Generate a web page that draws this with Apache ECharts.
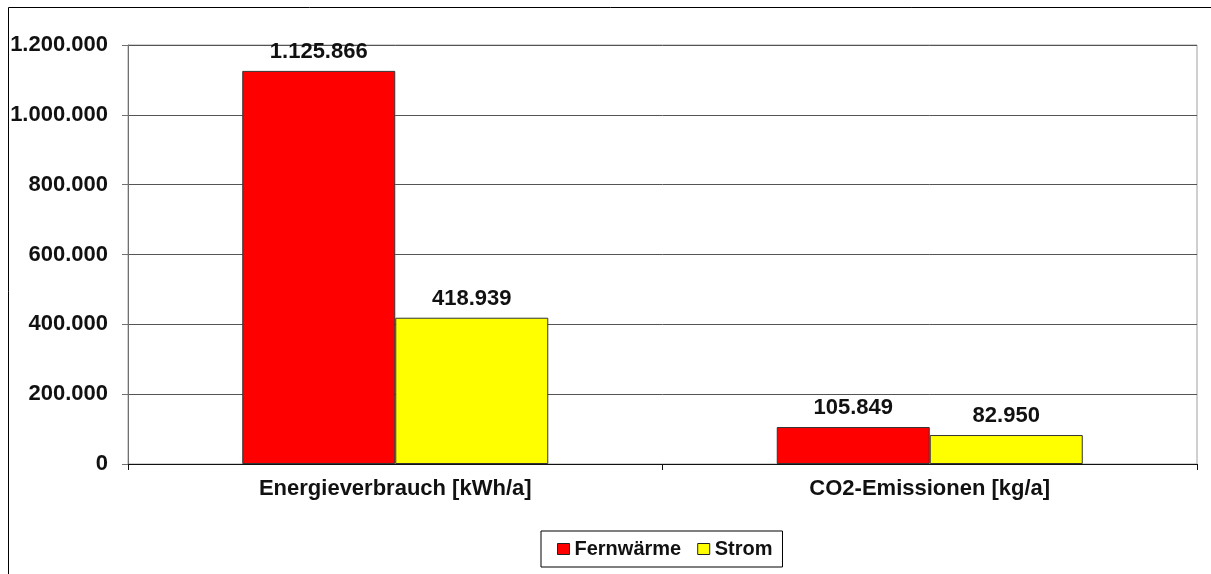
<!DOCTYPE html>
<html>
<head>
<meta charset="utf-8">
<script src="https://cdn.jsdelivr.net/npm/echarts@6/dist/echarts.min.js"></script>
<style>
html,body{margin:0;padding:0;background:#fff;}
#chart{width:1211px;height:574px;}
</style>
</head>
<body>
<div id="chart"></div>
<script>
const categories = ['Energieverbrauch [kWh/a]', 'CO2-Emissionen [kg/a]'];
const seriesNames = ['Fernwärme', 'Strom'];
const fernwaerme = [1125866, 105849];
const strom = [418939, 82950];
const yTicks = [0, 200000, 400000, 600000, 800000, 1000000, 1200000];

function de(v) {
  return String(Math.round(v)).replace(/\B(?=(\d{3})+(?!\d))/g, '.');
}

const font = '"Liberation Sans", Arial, sans-serif';
const chart = echarts.init(document.getElementById('chart'));
const labelCfg = {
  show: true, position: 'top', distance: 8,
  fontFamily: font, fontSize: 22, fontWeight: 'bold', color: '#111',
  formatter: p => de(p.value)
};
chart.setOption({
  animation: false,
  backgroundColor: '#fff',
  graphic: [{
    type: 'rect', silent: true,
    shape: { x: 8.5, y: 7.5, width: 1300, height: 700 },
    style: { fill: 'none', stroke: '#000', lineWidth: 1 }
  }],
  grid: { left: 128, right: 14, top: 45, bottom: 110, show: true, borderColor: '#a0a0a0', borderWidth: 1, backgroundColor: 'transparent' },
  legend: {
    left: 541, top: 531,
    padding: [8, 10, 8, 16],
    borderColor: '#000', borderWidth: 1,
    itemWidth: 12, itemHeight: 11, itemGap: 16,
    icon: 'rect',
    textStyle: { fontFamily: font, fontSize: 20, fontWeight: 'bold', color: '#111' },
    data: seriesNames.map(n => ({ name: n, itemStyle: { borderColor: '#222', borderWidth: 1 } }))
  },
  xAxis: {
    type: 'category', data: categories,
    axisLine: { lineStyle: { color: '#111', width: 1 } },
    axisTick: { show: true, length: 6, alignWithLabel: false, lineStyle: { color: '#111' } },
    axisLabel: { margin: 14, fontFamily: font, fontSize: 22, fontWeight: 'bold', color: '#111' }
  },
  yAxis: {
    type: 'value', min: yTicks[0], max: yTicks[yTicks.length - 1], interval: yTicks[1] - yTicks[0],
    axisLine: { show: true, lineStyle: { color: '#707070', width: 1 } },
    axisTick: { show: true, length: 6, lineStyle: { color: '#707070' } },
    axisLabel: { margin: 20, fontFamily: font, fontSize: 22, fontWeight: 'bold', color: '#111', formatter: v => de(v) },
    splitLine: { show: true, lineStyle: { color: '#555', width: 1 } }
  },
  series: [
    { name: seriesNames[0], type: 'bar', data: fernwaerme, barWidth: 153, barGap: '0%',
      itemStyle: { color: '#ff0000', borderColor: '#333', borderWidth: 1 }, label: labelCfg },
    { name: seriesNames[1], type: 'bar', data: strom, barWidth: 153, barGap: '0%',
      itemStyle: { color: '#ffff00', borderColor: '#333', borderWidth: 1 }, label: labelCfg }
  ]
});
</script>
</body>
</html>
